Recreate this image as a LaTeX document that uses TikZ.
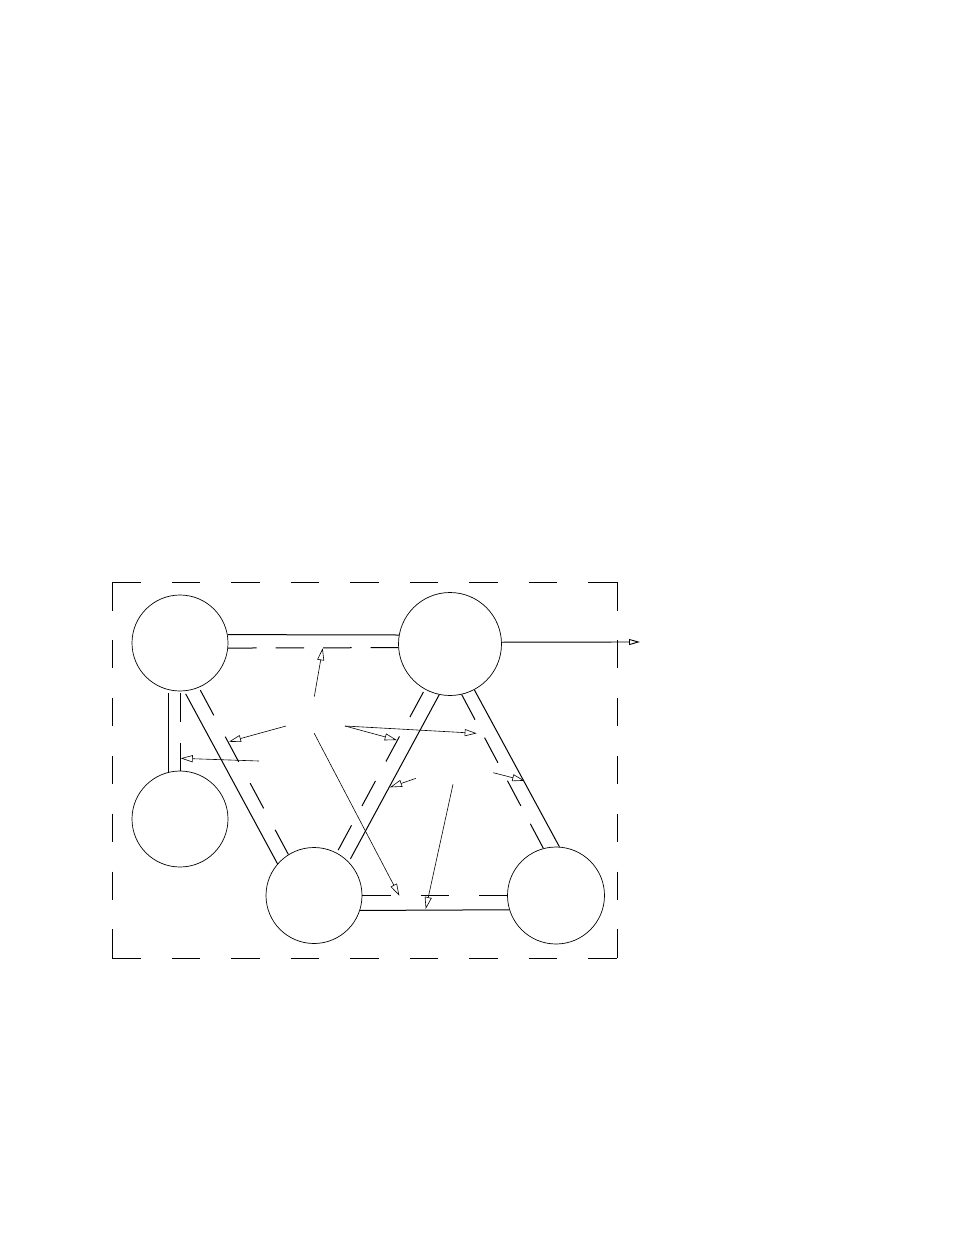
\documentclass[tikz,border=0pt]{standalone}
\usetikzlibrary{arrows.meta}
\begin{document}
\begin{tikzpicture}[x=1pt,y=-1pt,
  state/.style={circle,draw,line width=0.7pt,inner sep=0pt,minimum size=96pt},
  link/.style={line width=1pt},
  dlink/.style={line width=1pt,dash pattern=on 28.5pt off #1},
  boxedge/.style={line width=1pt,dash pattern=on 28.5pt off #1},
  ptr/.style={line width=0.6pt,-{Triangle[open,length=12pt,width=7pt]}},
  outptr/.style={line width=0.9pt,-{Triangle[open,length=11pt,width=6pt]}}
]
\path[use as bounding box] (0,0) rectangle (954,1235);

% states
\node[state] (A) at (180,643) {};
\node[state,minimum size=103pt] (B) at (450,644) {};
\node[state] (C) at (180,819) {};
\node[state] (D) at (314,895.5) {};
\node[state,minimum size=97pt] (E) at (556,895.5) {};

% dashed frame
\coordinate (f1) at (112,582);
\coordinate (f2) at (617,582);
\coordinate (f3) at (617,958);
\coordinate (f4) at (112,958);
\draw[boxedge=31pt] (f1) -- (f2);
\draw[boxedge=31pt] (f4) -- (f3);
\draw[boxedge=29.4pt] (f1) -- (f4);
\draw[boxedge=29.4pt] (f2) -- (f3);

% double links
\draw[link] (A.10) -- (B.170);
\draw[dlink=19pt] (A.-6) -- (B.-176);
\draw[link,shorten <=3pt] (A.-104) -- (C.104);
\draw[dlink=21pt,shorten <=2pt] (A.-90) -- (C.90);
\draw[link,shorten <=3pt] (A.-85) -- (D.139);
\draw[dlink=24.3pt,shorten <=3pt] (A.-67) -- (D.122);
\draw[link,shorten >=3.5pt] (B.-102) -- (D.44);
\draw[dlink=22pt,shorten <=3pt,shorten >=3pt] (B.-119) -- (D.62);
\draw[link] (B.-62) -- (E.86);
\draw[dlink=20.3pt] (B.-77) -- (E.105);
\draw[link] (D.-18) -- (E.-163);
\draw[dlink=30pt] (D.0) -- (E.180);

% pointer arrows
\coordinate (p1) at (314.3,696.7); \coordinate (q1) at (322.7,648.3);
\coordinate (p2) at (286,726);     \coordinate (q2) at (229,741.7);
\coordinate (p3) at (259,761);     \coordinate (q3) at (180.7,758.3);
\coordinate (p4) at (345,726);     \coordinate (q4) at (396.7,740);
                                   \coordinate (q5) at (476.7,733.3);
\coordinate (p6) at (314.2,733.3); \coordinate (q6) at (399.3,895.7);
\coordinate (p7) at (416,778.3);   \coordinate (q7) at (390,787.3);
\coordinate (p8) at (493.3,772.7); \coordinate (q8) at (524.3,780.7);
\coordinate (p9) at (453,784.3);   \coordinate (q9) at (425.7,909);
\coordinate (out) at (640,642);

\draw[ptr] (p1) -- (q1);
\draw[ptr] (p2) -- (q2);
\draw[ptr] (p3) -- (q3);
\draw[ptr] (p4) -- (q4);
\draw[ptr] (p4) -- (q5);
\draw[ptr] (p6) -- (q6);
\draw[ptr] (p7) -- (q7);
\draw[ptr] (p8) -- (q8);
\draw[ptr] (p9) -- (q9);
\draw[outptr] (B.2) -- (out);
\end{tikzpicture}
\end{document}
